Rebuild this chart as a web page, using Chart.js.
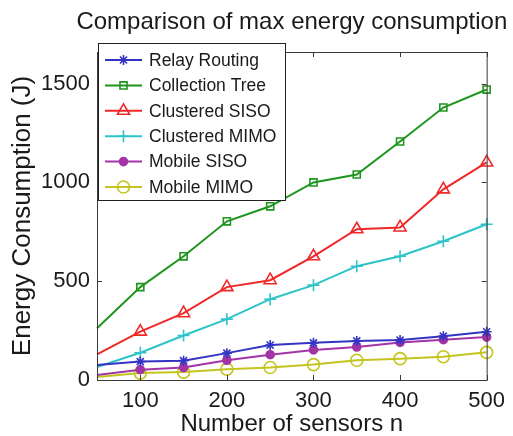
<!DOCTYPE html>
<html>
<head>
<meta charset="utf-8">
<script src="https://cdn.jsdelivr.net/npm/chart.js@4.4.0/dist/chart.umd.min.js"></script>
<style>
  html, body { margin: 0; padding: 0; background: #fff; }
</style>
</head>
<body>
<canvas id="chart" width="513" height="436"></canvas>
<script>
// values, n = 50 .. 500
const sensorCounts = [50, 100, 150, 200, 250, 300, 350, 400, 450, 500];
const xTickValues = [100, 200, 300, 400, 500];
const yTickValues = [0, 500, 1000, 1500];

const relayRouting = [76, 93, 98, 136, 177, 188, 198, 202, 222, 244];
const collectionTree = [262, 470, 626, 803, 879, 1000, 1040, 1207, 1379, 1470];
const clusteredSiso = [130, 245, 338, 470, 505, 626, 763, 772, 965, 1101];
const clusteredMimo = [66, 138, 225, 308, 409, 480, 576, 626, 702, 788];
const mobileSiso = [25, 52, 63, 100, 128, 152, 167, 190, 204, 217];
const mobileMimo = [15, 35, 40, 55, 63, 78, 100, 108, 118, 140];

const chartTitle = 'Comparison of max energy consumption';
const FONT = '"Liberation Sans", Arial, Helvetica, sans-serif';

function series(label, values, color, pointStyle, radius, filled) {
  return {
    label,
    data: sensorCounts.map((n, i) => ({ x: n, y: values[i] })),
    borderColor: color,
    backgroundColor: filled ? color : 'rgba(0,0,0,0)',
    borderWidth: 2,
    pointStyle,
    pointRadius: (ctx) => (ctx.dataIndex === 0 ? 0 : radius),
    pointBorderWidth: 1.6,
    pointBorderColor: color,
    pointBackgroundColor: filled ? color : 'rgba(0,0,0,0)',
    legendRadius: radius,
    tension: 0,
    clip: false,
  };
}

const datasets = [
  series('Relay Routing', relayRouting, '#3434c4', 'star', 5, false),
  series('Collection Tree', collectionTree, '#1e961e', 'rect', 5, false),
  series('Clustered SISO', clusteredSiso, '#f02828', 'triangle', 7, false),
  series('Clustered MIMO', clusteredMimo, '#2cc4c8', 'cross', 6, false),
  series('Mobile SISO', mobileSiso, '#a234a6', 'circle', 4, true),
  series('Mobile MIMO', mobileMimo, '#c4c41e', 'circle', 6, false),
];

// axes box with inward ticks, MATLAB style; title centred over the axes
const boxPlugin = {
  id: 'box',
  afterDatasetsDraw(chart) {
    const { ctx, chartArea: a, scales } = chart;
    ctx.save();
    ctx.strokeStyle = '#3a3a3a';
    ctx.lineWidth = 1;
    ctx.strokeRect(a.left + 0.5, a.top + 0.5, a.right - a.left, a.bottom - a.top);
    ctx.beginPath();
    for (const v of xTickValues) {
      const px = Math.round(scales.x.getPixelForValue(v)) + 0.5;
      ctx.moveTo(px, a.bottom); ctx.lineTo(px, a.bottom - 5);
      ctx.moveTo(px, a.top); ctx.lineTo(px, a.top + 5);
    }
    for (const v of yTickValues) {
      const py = Math.round(scales.y.getPixelForValue(v)) + 0.5;
      ctx.moveTo(a.left, py); ctx.lineTo(a.left + 5, py);
      ctx.moveTo(a.right, py); ctx.lineTo(a.right - 5, py);
    }
    ctx.stroke();

    ctx.fillStyle = '#1a1a1a';
    ctx.font = '24px ' + FONT;
    ctx.textAlign = 'center';
    ctx.textBaseline = 'middle';
    ctx.fillText(chartTitle, (a.left + a.right) / 2, 22);
    ctx.restore();
  },
};

// legend box drawn over the upper left corner
const legendPlugin = {
  id: 'boxLegend',
  afterDraw(chart) {
    const { ctx } = chart;
    const left = 98, top = 43, width = 187, height = 157;
    const rowGap = 25.4, firstRow = 60;
    ctx.save();
    ctx.fillStyle = '#fff';
    ctx.fillRect(left, top, width, height);
    ctx.strokeStyle = '#222';
    ctx.lineWidth = 1;
    ctx.strokeRect(left + 0.5, top + 0.5, width, height);
    chart.data.datasets.forEach((ds, i) => {
      const y = firstRow + i * rowGap;
      ctx.strokeStyle = ds.borderColor;
      ctx.lineWidth = 2;
      ctx.beginPath();
      ctx.moveTo(105, y);
      ctx.lineTo(142, y);
      ctx.stroke();
      ctx.fillStyle = ds.pointBackgroundColor;
      ctx.lineWidth = 1.6;
      Chart.helpers.drawPoint(ctx, {
        pointStyle: ds.pointStyle,
        radius: ds.legendRadius,
        rotation: 0,
        borderWidth: 1.6,
      }, 123.5, y);
      ctx.fillStyle = '#1a1a1a';
      ctx.font = '17.5px ' + FONT;
      ctx.textBaseline = 'middle';
      ctx.textAlign = 'left';
      ctx.fillText(ds.label, 149, y + 1);
    });
    ctx.restore();
  },
};

new Chart(document.getElementById('chart'), {
  type: 'line',
  data: { datasets },
  plugins: [boxPlugin, legendPlugin],
  options: {
    responsive: false,
    devicePixelRatio: 1,
    animation: false,
    layout: { padding: { left: 0, right: 21, top: 52, bottom: 0 } },
    plugins: {
      legend: { display: false },
      tooltip: { enabled: false },
      title: { display: false },
    },
    scales: {
      x: {
        type: 'linear',
        min: 50,
        max: 500,
        afterFit: (s) => { s.height = 56; },
        afterBuildTicks: (s) => { s.ticks = xTickValues.map((v) => ({ value: v })); },
        grid: { display: false, drawTicks: false, tickLength: 0 },
        border: { display: false },
        ticks: {
          color: '#1a1a1a',
          padding: 8,
          maxRotation: 0,
          font: { family: FONT, size: 22 },
        },
        title: {
          display: true,
          text: 'Number of sensors n',
          color: '#1a1a1a',
          font: { family: FONT, size: 24, lineHeight: 1 },
          padding: { top: 0, bottom: 0 },
        },
      },
      y: {
        type: 'linear',
        min: 0,
        max: 1660,
        afterFit: (s) => { s.width = 97; },
        afterBuildTicks: (s) => { s.ticks = yTickValues.map((v) => ({ value: v })); },
        grid: { display: false, drawTicks: false, tickLength: 0 },
        border: { display: false },
        ticks: {
          color: '#1a1a1a',
          padding: 7,
          font: { family: FONT, size: 22 },
          callback: (v) => String(v),
        },
        title: {
          display: true,
          text: 'Energy Consumption (J)',
          color: '#1a1a1a',
          font: { family: FONT, size: 26, lineHeight: 1 },
          padding: { top: 10, bottom: 0 },
        },
      },
    },
  },
});
</script>
</body>
</html>
